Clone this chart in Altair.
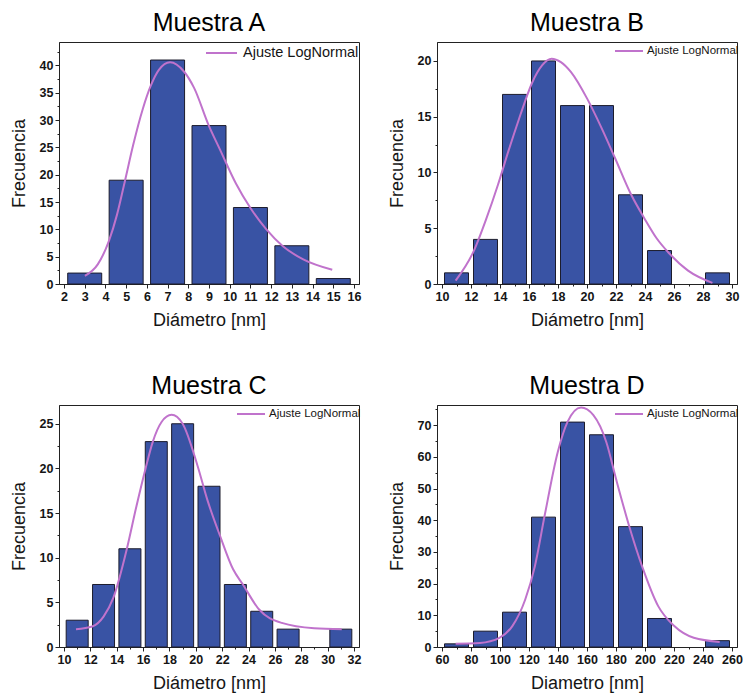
import altair as alt
import pandas as pd

FONT = "Liberation Sans"
BAR_FILL = "#3953a4"
BAR_EDGE = "#1c1c2c"
FIT_COLOR = "#c073cc"
INK = "#151515"
SERIE = "Ajuste LogNormal"

# ---- Muestra A ----
a_centro = [3, 5, 7, 9, 11, 13, 15]
a_frec = [2, 19, 41, 29, 14, 7, 1]
a_fit_x = [3.01, 3.63, 4.17, 4.56, 4.95, 5.33, 5.8, 6.19, 6.58, 7.12, 7.79, 8.28, 8.98, 9.52, 10.3, 11.0, 11.77, 12.54, 13.55, 14.95]
a_fit_y = [1.5, 3.6, 7.9, 12.7, 19.0, 25.3, 32.0, 36.3, 39.2, 40.6, 38.9, 35.9, 29.1, 24.7, 18.4, 13.9, 10.0, 7.0, 4.5, 2.6]

# ---- Muestra B ----
b_centro = [11, 13, 15, 17, 19, 21, 23, 25, 27, 29]
b_frec = [1, 4, 17, 20, 16, 16, 8, 3, 0, 1]
b_fit_x = [10.94, 12.17, 13.07, 13.86, 14.6, 15.31, 15.87, 16.2, 16.9, 17.56, 18.2, 18.9, 20.02, 21.0, 21.93, 23.05, 23.95, 24.8, 25.63, 26.97, 28.65]
b_fit_y = [0.3, 2.9, 5.9, 8.9, 12.0, 14.8, 16.9, 18.0, 19.6, 20.2, 19.9, 19.0, 16.6, 14.0, 11.3, 8.0, 5.9, 4.1, 2.8, 1.2, 0.1]

# ---- Muestra C ----
c_centro = [11, 13, 15, 17, 19, 21, 23, 25, 27, 29, 31]
c_frec = [3, 7, 11, 23, 25, 18, 7, 4, 2, 0, 2]
c_fit_x = [10.91, 12.14, 13.0, 13.74, 14.77, 15.5, 16.19, 16.74, 17.4, 18.16, 19.0, 20.13, 20.87, 21.85, 22.83, 23.57, 24.8, 26.52, 28.98, 31.07]
c_fit_y = [2.0, 2.3, 3.4, 5.5, 11.0, 15.8, 20.0, 23.0, 25.2, 26.0, 25.0, 20.3, 16.5, 12.4, 8.7, 7.0, 4.2, 2.7, 2.1, 2.0]

# ---- Muestra D ----
d_centro = [70, 90, 110, 130, 150, 170, 190, 210, 230, 250]
d_frec = [1, 5, 11, 41, 71, 67, 38, 9, 0, 2]
d_fit_x = [69.4, 86.1, 99.6, 108.5, 117.4, 124.1, 130.8, 139.8, 146.5, 155.9, 164.4, 173.3, 180.0, 189.0, 197.9, 209.1, 220.2, 233.6, 251.5]
d_fit_y = [1.06, 1.3, 2.9, 6.6, 15.0, 25.6, 41.5, 61.5, 71.0, 75.6, 73.2, 64.7, 53.1, 38.3, 25.6, 12.9, 6.6, 2.9, 1.6]

# ---- tick positions (every tick; labels only on the major step) ----
a_x_ticks = [2, 3, 4, 5, 6, 7, 8, 9, 10, 11, 12, 13, 14, 15, 16]
b_x_ticks = [10, 11, 12, 13, 14, 15, 16, 17, 18, 19, 20, 21, 22, 23, 24, 25, 26, 27, 28, 29, 30]
c_x_ticks = [10, 11, 12, 13, 14, 15, 16, 17, 18, 19, 20, 21, 22, 23, 24, 25, 26, 27, 28, 29, 30, 31, 32]
d_x_ticks = [60, 70, 80, 90, 100, 110, 120, 130, 140, 150, 160, 170, 180, 190, 200, 210, 220, 230, 240, 250, 260]
a_y_ticks = [0, 2.5, 5, 7.5, 10, 12.5, 15, 17.5, 20, 22.5, 25, 27.5, 30, 32.5, 35, 37.5, 40, 42.5]
b_y_ticks = [0, 2.5, 5, 7.5, 10, 12.5, 15, 17.5, 20]
c_y_ticks = [0, 2.5, 5, 7.5, 10, 12.5, 15, 17.5, 20, 22.5, 25]
d_y_ticks = [0, 5, 10, 15, 20, 25, 30, 35, 40, 45, 50, 55, 60, 65, 70, 75]


def make_axis(ticks, step, title, orient):
    major = f"datum.value % {step} === 0"
    return alt.Axis(
        values=ticks,
        title=title,
        labelExpr=f"{major} ? datum.label : ''",
        tickSize={"condition": {"test": major, "value": 4}, "value": 2},
        labelOverlap=False,
        labelFlush=False,
        labelPadding=2,
        minExtent=21 if orient == "y" else 19,
        maxExtent=21 if orient == "y" else 19,
        titlePadding=10 if orient == "y" else 8,
    )


def panel(titulo, centro, frec, fit_x, fit_y, x_dom, x_ticks, x_step,
          y_dom, y_ticks, y_step, bar_px, x_title, ley):
    bars_df = pd.DataFrame({"d": centro, "n": frec})
    fit_df = pd.DataFrame({"d": fit_x, "n": fit_y, "serie": SERIE})

    x_enc = alt.X("d:Q", scale=alt.Scale(domain=x_dom, nice=False, zero=False),
                  axis=make_axis(x_ticks, x_step, x_title, "x"))
    y_enc = alt.Y("n:Q", scale=alt.Scale(domain=y_dom, nice=False),
                  axis=make_axis(y_ticks, y_step, "Frecuencia", "y"))

    bars = (
        alt.Chart(bars_df)
        .transform_filter("datum.n > 0")
        .mark_bar(size=bar_px, fill=BAR_FILL, stroke=BAR_EDGE, strokeWidth=1)
        .encode(x=x_enc, y=y_enc)
    )
    fit = (
        alt.Chart(fit_df)
        .mark_line(interpolate="monotone", strokeWidth=2)
        .encode(
            x=x_enc,
            y=y_enc,
            color=alt.Color(
                "serie:N",
                scale=alt.Scale(range=[FIT_COLOR]),
                legend=alt.Legend(
                    title=None,
                    orient="none",
                    legendX=ley["x"],
                    legendY=-ley["up"],
                    padding=0,
                    symbolType="stroke",
                    symbolStrokeWidth=2,
                    symbolSize=ley["len"] * ley["len"],
                    labelFont=FONT,
                    labelFontSize=ley["font"],
                    labelColor=INK,
                    labelOffset=ley["gap"],
                ),
            ),
        )
    )
    # the legend row reaches a few pixels above the frame; the title gap
    # is measured from there, so shorten it by the same amount
    return alt.layer(bars, fit).properties(
        width=300,
        height=242,
        title=alt.TitleParams(titulo, anchor="middle", frame="group",
                              offset=max(6 - ley["up"], 0)),
    )


ley_a = {"x": 146, "up": 5.5, "len": 31, "font": 14.5, "gap": 5}
ley_b = {"x": 177, "up": 6, "len": 28, "font": 11.5, "gap": 3}
ley_cd = {"x": 177, "up": 6, "len": 28, "font": 11.5, "gap": 3}

pa = panel("Muestra A", a_centro, a_frec, a_fit_x, a_fit_y, [2, 16], a_x_ticks, 1,
           [0, 44.3], a_y_ticks, 5, 34, "Diámetro [nm]", ley_a)
pb = panel("Muestra B", b_centro, b_frec, b_fit_x, b_fit_y, [10, 30], b_x_ticks, 2,
           [0, 21.7], b_y_ticks, 5, 24, "Diámetro [nm]", ley_b)
pc = panel("Muestra C", c_centro, c_frec, c_fit_x, c_fit_y, [10, 32], c_x_ticks, 2,
           [0, 27.1], c_y_ticks, 5, 22, "Diámetro [nm]", ley_cd)
pd_ = panel("Muestra D", d_centro, d_frec, d_fit_x, d_fit_y, [60, 260], d_x_ticks, 20,
            [0, 76.4], d_y_ticks, 10, 24, "Diametro [nm]", ley_cd)

top = alt.hconcat(pa, pb, spacing=25).resolve_scale(color="independent").resolve_legend(color="independent")
bottom = alt.hconcat(pc, pd_, spacing=25).resolve_scale(color="independent").resolve_legend(color="independent")

chart = (
    alt.vconcat(top, bottom, spacing=43)
    .resolve_scale(color="independent")
    .resolve_legend(color="independent")
    .properties(padding={"left": 9, "top": 10, "right": 0, "bottom": 0}, background="white")
    .configure_view(stroke="#222222", strokeWidth=1)
    .configure_axis(
        grid=False,
        domainColor="#222222",
        tickColor="#222222",
        labelFont=FONT,
        labelFontSize=12.5,
        labelFontWeight="bold",
        labelColor=INK,
        titleFont=FONT,
        titleFontSize=18,
        titleFontWeight="normal",
        titleColor=INK,
    )
    .configure_title(font=FONT, fontSize=25, fontWeight="normal", color="#000000")
)

chart.save("out.html", embed_options={"renderer": "svg", "actions": False})
